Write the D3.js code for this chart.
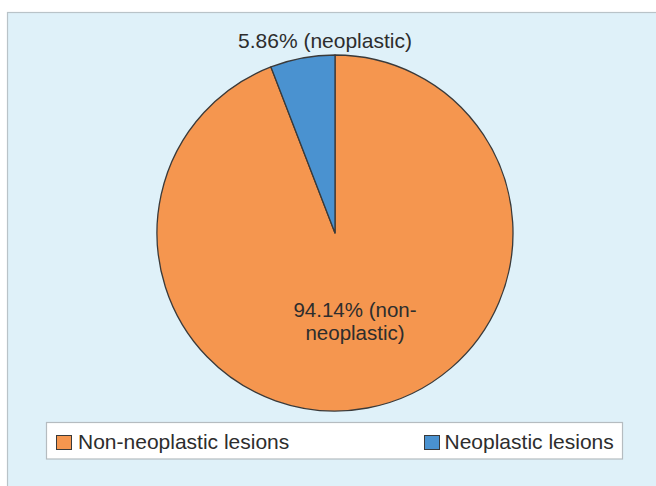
<!DOCTYPE html>
<html>
<head>
<meta charset="utf-8">
<script src="https://cdn.jsdelivr.net/npm/d3@7"></script>
<style>
  html, body { margin: 0; padding: 0; background: #ffffff; }
  svg { display: block; }
</style>
</head>
<body>
<svg id="chart" width="656" height="486"></svg>
<script>
// Lesion categories and their share (%)
const categories = ["Non-neoplastic lesions", "Neoplastic lesions"];
const shares = [94.14, 5.86];
const sliceLabels = [["94.14% (non-", "neoplastic)"], ["5.86% (neoplastic)"]];
const colors = ["#f5964f", "#4a92d0"];

const svg = d3.select("#chart");
const font = "'Liberation Sans', Arial, sans-serif";

// Panel background
svg.append("rect")
  .attr("x", 7.5).attr("y", 12.5)
  .attr("width", 660).attr("height", 490)
  .attr("fill", "#dff1f9")
  .attr("stroke", "#b9c3c8").attr("stroke-width", 1.2);

const cx = 335, cy = 233, r = 178;
const g = svg.append("g").attr("transform", `translate(${cx},${cy})`);

const data = categories.map((c, i) => ({ cat: c, value: shares[i], idx: i }));
const pie = d3.pie().sort(null).value(d => d.value);
const arc = d3.arc().innerRadius(0).outerRadius(r);
const color = d3.scaleOrdinal().domain(categories).range(colors);

const arcs = pie(data);
g.selectAll("path.slice")
  .data(arcs)
  .join("path")
  .attr("class", "slice")
  .attr("d", arc)
  .attr("fill", d => color(d.data.cat))
  .attr("stroke", "#3a3a3a")
  .attr("stroke-width", 1.3)
  .attr("stroke-linejoin", "round");

// Slice labels
const labelPos = [
  { x: 355, y: 317, size: 20.5, gap: 22.5 },   // inside the large slice
  { x: 325, y: 48, size: 21, gap: 0 }          // above the small slice
];
arcs.forEach((a, i) => {
  const p = labelPos[i];
  const t = svg.append("text")
    .attr("x", p.x).attr("y", p.y)
    .attr("text-anchor", "middle")
    .attr("font-family", font).attr("font-size", p.size)
    .attr("fill", "#2d2d2d");
  sliceLabels[a.data.idx].forEach((line, j) => {
    t.append("tspan").attr("x", p.x).attr("dy", j === 0 ? 0 : p.gap).text(line);
  });
});

// Legend
const lg = svg.append("g");
lg.append("rect")
  .attr("x", 46.5).attr("y", 422.5)
  .attr("width", 576).attr("height", 36.5)
  .attr("fill", "#ffffff")
  .attr("stroke", "#b5bcc0").attr("stroke-width", 1.2);

const legendX = [56, 424];
categories.forEach((c, i) => {
  lg.append("rect")
    .attr("x", legendX[i] + 0.5).attr("y", 435.5)
    .attr("width", 15).attr("height", 14)
    .attr("fill", color(c))
    .attr("stroke", "#3a3a3a").attr("stroke-width", 1);
  lg.append("text")
    .attr("x", legendX[i] + (i === 0 ? 22 : 20.5)).attr("y", 448.5)
    .attr("font-family", font).attr("font-size", 21)
    .attr("fill", "#2d2d2d")
    .text(c);
});
</script>
</body>
</html>
